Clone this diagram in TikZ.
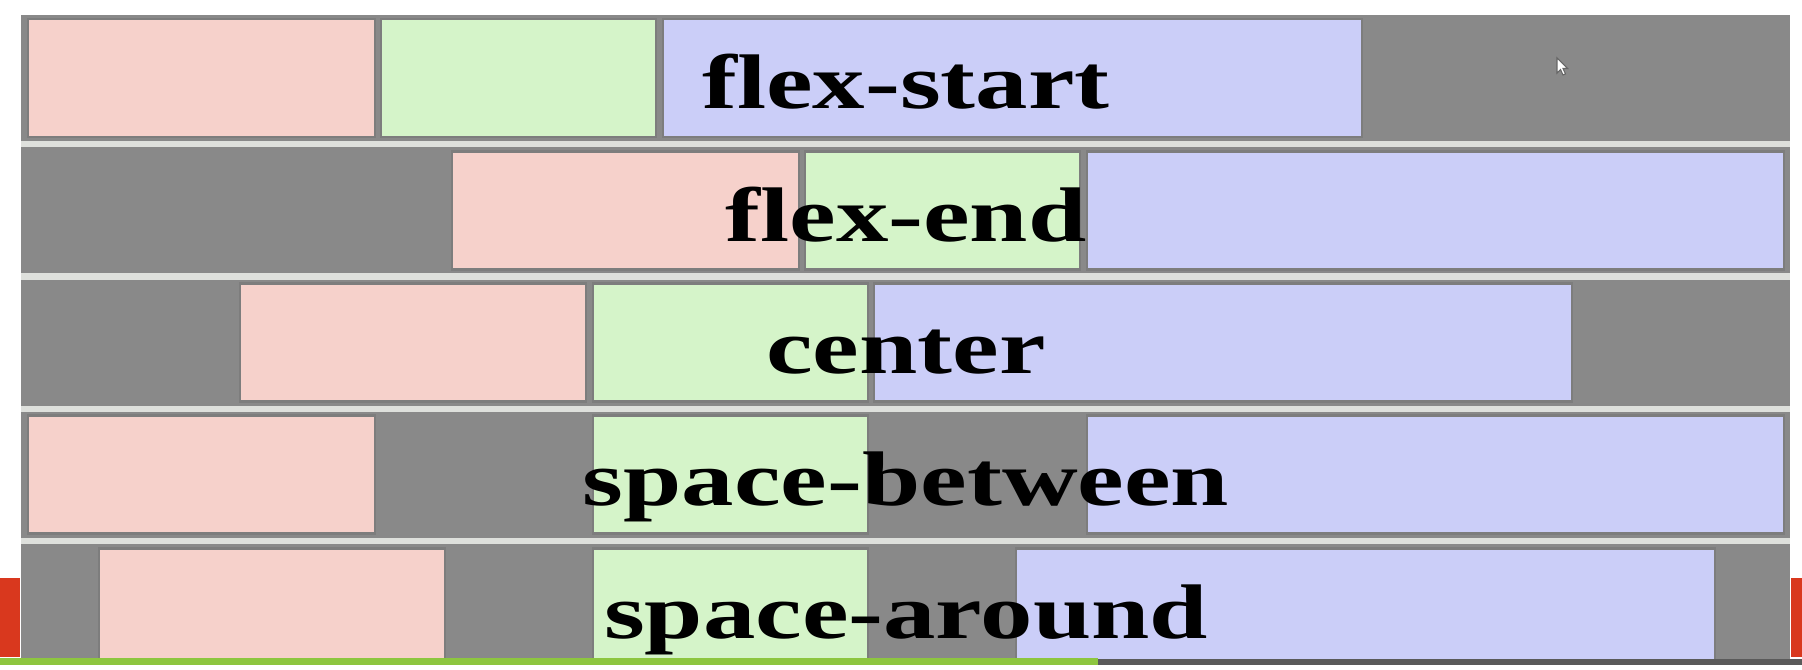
\documentclass[tikz,border=0pt]{standalone}
\usepackage{fontspec}
\setmainfont{Liberation Serif}
\usepackage{graphicx}
\definecolor{pinkbox}{RGB}{246,209,203}
\definecolor{greenbox}{RGB}{213,244,201}
\definecolor{bluebox}{RGB}{203,206,248}
\definecolor{contgray}{RGB}{137,137,137}
\definecolor{itemline}{RGB}{125,125,125}
\definecolor{sepcol}{RGB}{222,224,220}
\definecolor{bargreen}{RGB}{141,198,63}
\definecolor{bardark}{RGB}{90,90,90}
\definecolor{barred}{RGB}{217,56,30}
\tikzset{
  rowbox/.style={fill=contgray},
  pinkitem/.style={fill=pinkbox, draw=itemline, line width=0.8pt},
  greenitem/.style={fill=greenbox, draw=itemline, line width=0.8pt},
  blueitem/.style={fill=bluebox, draw=itemline, line width=0.8pt},
  lbl/.style={font=\fontsize{22}{26}\selectfont\bfseries, inner sep=0pt, anchor=base, text=black},
}
\begin{document}
\begin{tikzpicture}[x=0.01cm,y=-0.01cm]
\useasboundingbox (0,0) rectangle (1802,670);
\fill[white] (0,0) rectangle (1802,670);
% container with separators
\fill[sepcol] (21,15) rectangle (1790,658);
\foreach \t in {15,147.3,279.6,411.9,544.2}
  \fill[rowbox] (21,\t) rectangle (1790,\t+126);
% row 1: flex-start
\path[pinkitem]  (28,19) rectangle (375,137);
\path[greenitem] (381,19) rectangle (656,137);
\path[blueitem]  (663,19) rectangle (1362,137);
% row 2: flex-end
\path[pinkitem]  (452,151.3) rectangle (799,269.3);
\path[greenitem] (805,151.3) rectangle (1080,269.3);
\path[blueitem]  (1087,151.3) rectangle (1784,269.3);
% row 3: center
\path[pinkitem]  (240,283.6) rectangle (586,401.6);
\path[greenitem] (593,283.6) rectangle (868,401.6);
\path[blueitem]  (874,283.6) rectangle (1572,401.6);
% row 4: space-between
\path[pinkitem]  (28,415.9) rectangle (375,533.9);
\path[greenitem] (593,415.9) rectangle (868,533.9);
\path[blueitem]  (1087,415.9) rectangle (1784,533.9);
% row 5: space-around
\path[pinkitem]  (99,548.2) rectangle (445,666.2);
\path[greenitem] (593,548.2) rectangle (868,666.2);
\path[blueitem]  (1016,548.2) rectangle (1715,666.2);
% labels
\node[lbl] (lstart)   at (906,109)   {\scalebox{1.355}[1]{flex-start}};
\node[lbl] (lend)     at (906,241.3) {\scalebox{1.355}[1]{flex-end}};
\node[lbl] (lcenter)  at (906,373.6) {\scalebox{1.355}[1]{center}};
\node[lbl] (lbetween) at (906,505.9) {\scalebox{1.355}[1]{space-between}};
\node[lbl] (laround)  at (906,638.2) {\scalebox{1.355}[1]{space-around}};
% bottom bars
\fill[white] (0,665) rectangle (1802,670);
\fill[bargreen] (0,658) rectangle (1098,665);
\fill[bardark] (1098,659) rectangle (1802,665);
\fill[barred] (0,578) rectangle (20,657);
\fill[barred] (1791,578) rectangle (1802,657);
% mouse pointer
\fill[white, draw=black!60, line width=0.3pt, shift={(1557,58)}]
  (0,0) -- (0,15) -- (3.5,11.5) -- (6,17) -- (8.5,16) -- (6,10.5) -- (10.5,10.5) -- cycle;
\end{tikzpicture}
\end{document}
